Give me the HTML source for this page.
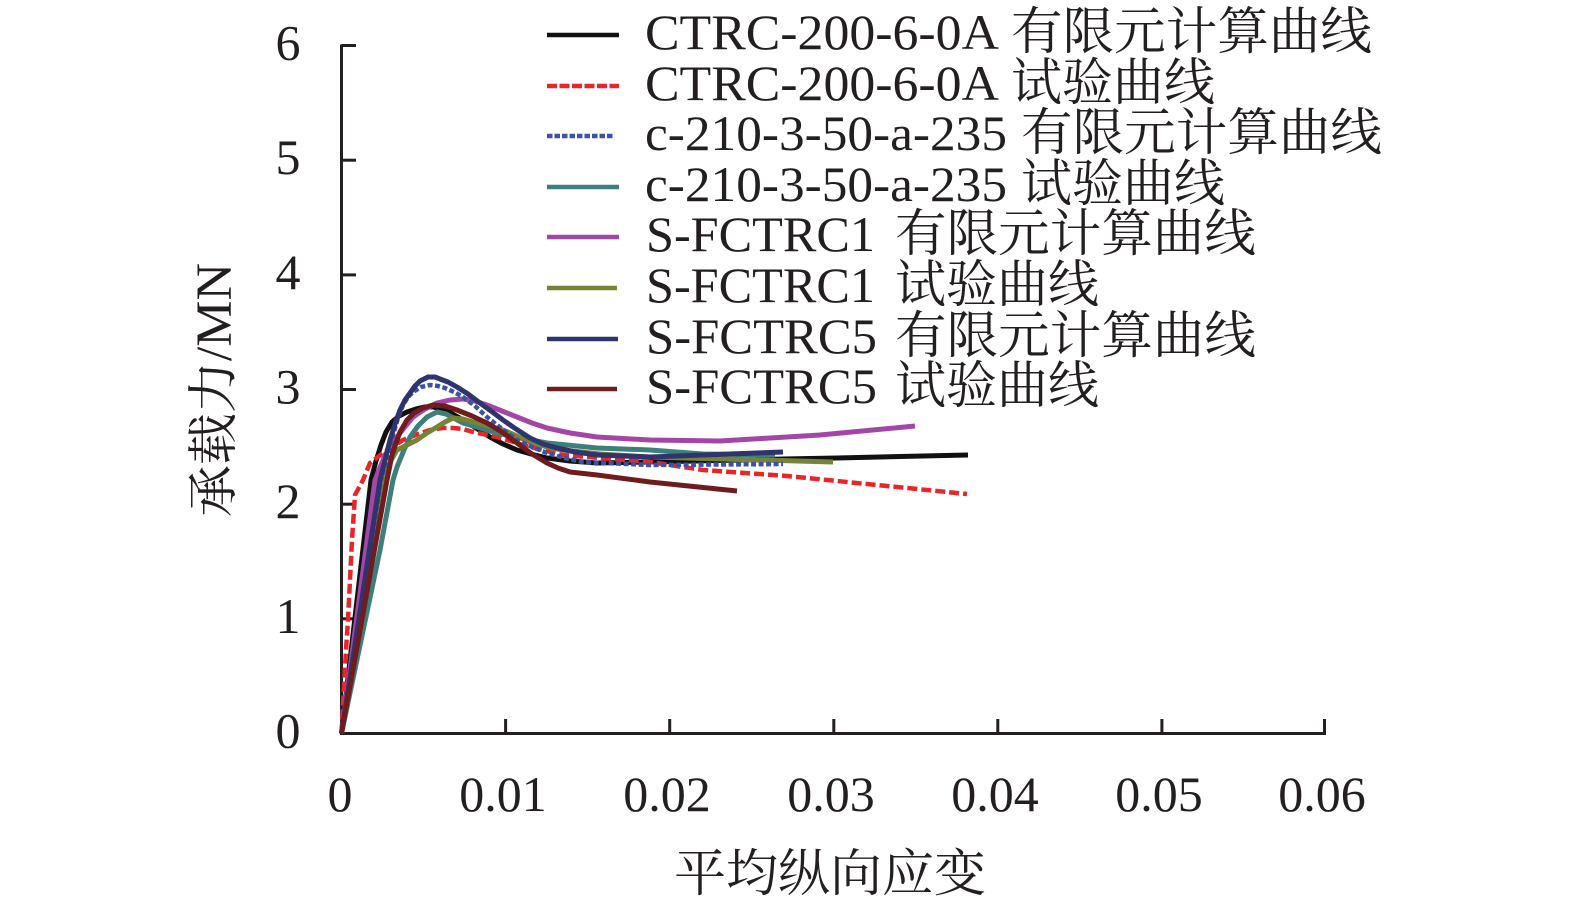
<!DOCTYPE html>
<html>
<head>
<meta charset="utf-8">
<style>
html,body{margin:0;padding:0;background:#fff;}
svg{display:block;}
.t{font-family:"Liberation Serif","Noto Serif CJK SC",serif;font-size:50px;fill:#231f20;}
.c{font-family:"Liberation Serif","Noto Serif CJK SC",serif;font-size:51px;fill:#231f20;}
</style>
</head>
<body>
<svg width="1575" height="907" viewBox="0 0 1575 907" xmlns="http://www.w3.org/2000/svg">
<rect width="1575" height="907" fill="#fff"/>

<!-- axes -->
<g stroke="#231f20" stroke-width="3" fill="none">
  <line x1="341.5" y1="44.5" x2="341.5" y2="735"/>
  <line x1="340" y1="733.5" x2="1326" y2="733.5"/>
  <line x1="341.5" y1="45.5" x2="356" y2="45.5"/>
  <line x1="341.5" y1="160.2" x2="356" y2="160.2"/>
  <line x1="341.5" y1="274.9" x2="356" y2="274.9"/>
  <line x1="341.5" y1="389.5" x2="356" y2="389.5"/>
  <line x1="341.5" y1="504.2" x2="356" y2="504.2"/>
  <line x1="341.5" y1="618.8" x2="356" y2="618.8"/>
  <line x1="505.6" y1="733.5" x2="505.6" y2="719"/>
  <line x1="669.7" y1="733.5" x2="669.7" y2="719"/>
  <line x1="833.8" y1="733.5" x2="833.8" y2="719"/>
  <line x1="997.8" y1="733.5" x2="997.8" y2="719"/>
  <line x1="1161.9" y1="733.5" x2="1161.9" y2="719"/>
  <line x1="1324.5" y1="735" x2="1324.5" y2="719"/>
</g>

<g class="t" text-anchor="middle">
  <text x="288" y="59.5">6</text>
  <text x="288" y="174.2">5</text>
  <text x="288" y="288.9">4</text>
  <text x="288" y="403.5">3</text>
  <text x="288" y="518.2">2</text>
  <text x="288" y="632.8">1</text>
  <text x="288" y="747.5">0</text>
</g>
<g class="t" text-anchor="middle">
  <text x="340" y="811">0</text>
  <text x="503" y="811">0.01</text>
  <text x="667" y="811">0.02</text>
  <text x="831" y="811">0.03</text>
  <text x="995" y="811">0.04</text>
  <text x="1159" y="811">0.05</text>
  <text x="1322" y="811">0.06</text>
</g>

<text class="c" x="830" y="891" text-anchor="middle" textLength="312" lengthAdjust="spacingAndGlyphs">平均纵向应变</text>
<text class="c" transform="translate(231,390) rotate(-90)" text-anchor="middle" textLength="254" lengthAdjust="spacingAndGlyphs">承载力/MN</text>

<!-- curves -->
<g fill="none" stroke-linejoin="round" stroke-linecap="butt">
  <polyline stroke="#111111" stroke-width="5" points="341.5,733.5 371,480 376,461 381,445 386,432 392,422 399,416 407,412 416,409 425,407 433,407 441,409 451,413 463,420 476,428 490,437 503,444 517,450 531,454 547,458 570,461 597,463 650,462 783,459 837,458 968,455"/>
  <polyline stroke="#e8262a" stroke-width="4.5" stroke-dasharray="10,4" points="341.5,733.5 346,650 348,620 352,540 355,495 363,480 370,463 383,453 403,440 418,434 430,430 442,428 453,428 463,429 473,432 497,437 530,447 563,455 650,462 703,470 787,476 967,494"/>
  <polyline stroke="#3c7f7b" stroke-width="5" points="341.5,733.5 380,550 393,480 397,467 404,450 410,437 418,426 427,417 437,412 446,414 463,423 480,428 497,433 520,438 547,443 597,448 650,450 703,454 775,455"/>
  <polyline stroke="#a446a8" stroke-width="5" points="341.5,733.5 375,480 385,455 395,440 404,428 413,417 425,409 437,403 450,400 463,399 475,401 487,405 502,411 517,417 532,423 547,428 570,433 597,437 650,440 720,441 820,435 915,426"/>
  <polyline stroke="#778336" stroke-width="5" points="341.5,733.5 383,480 390,462 397,450 407,445 417,440 427,433 437,427 445,422 453,418 463,419 473,422 488,426 503,430 517,436 530,442 547,447 563,450 600,454 650,457 833,462"/>
  <polyline stroke="#3a53a4" stroke-width="4.5" stroke-dasharray="5,2.5" points="341.5,733.5 381,480 393,435 398,418 403,405 408,397 413,392 421,387 430,385 438,386 445,388 454,392 463,397 475,406 487,417 502,429 517,440 532,447 547,453 565,458 583,462 650,465 783,464"/>
  <polyline stroke="#2f346e" stroke-width="5" points="341.5,733.5 380,480 385,460 390,440 395,424 400,410 405,400 410,393 415,386 420,381 428,377 435,377 440,379 448,382 457,387 468,394 480,403 491,411 503,420 516,429 530,438 543,444 557,448 575,452 597,455 650,457 783,452"/>
  <polyline stroke="#701c1e" stroke-width="5" points="341.5,733.5 387,480 392,455 396,443 400,432 407,420 414,413 423,408 433,405 445,406 457,410 472,416 487,423 502,432 517,443 532,454 547,463 558,468 570,472 597,475 650,482 737,491"/>
</g>

<!-- legend lines -->
<g fill="none">
  <line x1="547" y1="35" x2="619" y2="35" stroke="#111111" stroke-width="4.5"/>
  <line x1="547" y1="86" x2="619" y2="86" stroke="#e8262a" stroke-width="4.5" stroke-dasharray="10,2.5"/>
  <line x1="547" y1="136" x2="613" y2="136" stroke="#3a53a4" stroke-width="4.5" stroke-dasharray="5.5,2"/>
  <line x1="547" y1="187" x2="619" y2="187" stroke="#3c7f7b" stroke-width="4.5"/>
  <line x1="547" y1="237" x2="619" y2="237" stroke="#a446a8" stroke-width="4.5"/>
  <line x1="547" y1="288" x2="617" y2="288" stroke="#778336" stroke-width="4.5"/>
  <line x1="547" y1="339" x2="618" y2="339" stroke="#2f346e" stroke-width="4.5"/>
  <line x1="547" y1="389" x2="617" y2="389" stroke="#701c1e" stroke-width="4.5"/>
</g>

<g class="t">
  <text x="645" y="49" textLength="354" lengthAdjust="spacingAndGlyphs">CTRC-200-6-0A</text>
  <text x="645" y="100" textLength="354" lengthAdjust="spacingAndGlyphs">CTRC-200-6-0A</text>
  <text x="645" y="150" textLength="362" lengthAdjust="spacingAndGlyphs">c-210-3-50-a-235</text>
  <text x="645" y="201" textLength="362" lengthAdjust="spacingAndGlyphs">c-210-3-50-a-235</text>
  <text x="646" y="251" textLength="229" lengthAdjust="spacingAndGlyphs">S-FCTRC1</text>
  <text x="646" y="302" textLength="229" lengthAdjust="spacingAndGlyphs">S-FCTRC1</text>
  <text x="646" y="353" textLength="231" lengthAdjust="spacingAndGlyphs">S-FCTRC5</text>
  <text x="646" y="403" textLength="231" lengthAdjust="spacingAndGlyphs">S-FCTRC5</text>
</g>
<g class="c">
  <text x="1011" y="49" textLength="361" lengthAdjust="spacingAndGlyphs">有限元计算曲线</text>
  <text x="1011" y="100" textLength="204" lengthAdjust="spacingAndGlyphs">试验曲线</text>
  <text x="1021" y="150" textLength="361" lengthAdjust="spacingAndGlyphs">有限元计算曲线</text>
  <text x="1021" y="201" textLength="204" lengthAdjust="spacingAndGlyphs">试验曲线</text>
  <text x="895" y="251" textLength="361" lengthAdjust="spacingAndGlyphs">有限元计算曲线</text>
  <text x="895" y="302" textLength="204" lengthAdjust="spacingAndGlyphs">试验曲线</text>
  <text x="895" y="353" textLength="361" lengthAdjust="spacingAndGlyphs">有限元计算曲线</text>
  <text x="895" y="403" textLength="204" lengthAdjust="spacingAndGlyphs">试验曲线</text>
</g>
</svg>
</body>
</html>
